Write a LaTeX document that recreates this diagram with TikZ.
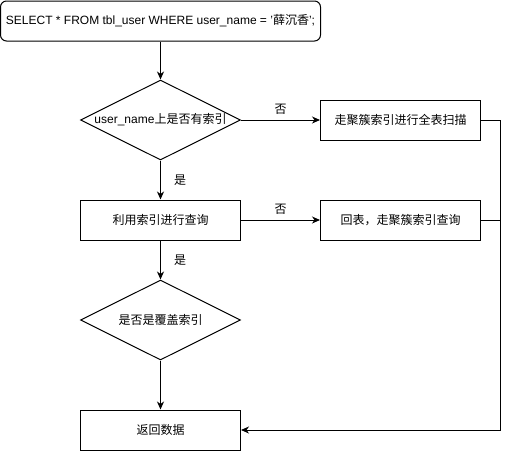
\documentclass[tikz,border=0pt]{standalone}
\usepackage{fontspec}
\setmainfont{Liberation Sans}
\newfontfamily\cjk{Noto Sans CJK SC}
\usetikzlibrary{arrows.meta,shapes.geometric}
\begin{document}
\begin{tikzpicture}[x=1pt,y=-1pt,line width=1pt,
  font=\fontsize{12}{14}\selectfont,
  every node/.style={inner sep=0pt},
  stepbox/.style={draw,rectangle,minimum width=160pt,minimum height=40pt},
  startbox/.style={draw,rectangle,rounded corners=6pt,minimum width=320pt,minimum height=40pt},
  decision/.style={draw,diamond,minimum width=160pt,minimum height=80pt},
  flow/.style={-{Stealth[length=8pt,width=7pt,inset=2.5pt]}},
  edgelabel/.style={font=\fontsize{12}{14}\selectfont\cjk}]
  \useasboundingbox (0,0) rectangle (509,451);

  % nodes
  \node[startbox] (q) at (160.5,21) {SELECT * FROM tbl\_user WHERE user\_name = '{\cjk 薛沉香}';};
  \node[decision] (d1) at (160.5,120) {};
  \node (d1t) at (d1.center) {user\_name{\cjk 上是否有索引}};
  \node[stepbox] (b1) at (400.5,120) {\cjk 走聚簇索引进行全表扫描};
  \node[stepbox] (b2) at (160.5,220) {\cjk 利用索引进行查询};
  \node[stepbox] (b3) at (400.5,220) {\cjk 回表，走聚簇索引查询};
  \node[decision] (d2) at (160.5,320) {};
  \node (d2t) at (d2.center) {\cjk 是否是覆盖索引};
  \node[stepbox] (b4) at (160.5,430) {\cjk 返回数据};
  \coordinate (rail) at (500.5,120);

  % connectors
  \draw[flow] (q.south) -- (d1.north);
  \draw[flow] (d1.east) -- node[edgelabel,above=5pt,pos=0.5] (l1) {否} (b1.west);
  \draw[flow] (d1.south) -- node[edgelabel,right=13pt] (l2) {是} (b2.north);
  \draw[flow] (b2.east) -- node[edgelabel,above=5pt,pos=0.5] (l3) {否} (b3.west);
  \draw[flow] (b2.south) -- node[edgelabel,right=13pt] (l4) {是} (d2.north);
  \draw[flow] (d2.south) -- (b4.north);
  \draw[flow] (b1.east) -- (rail) |- (b4.east);
  \draw (b3.east) -- (b3.east -| rail);
\end{tikzpicture}
\end{document}
